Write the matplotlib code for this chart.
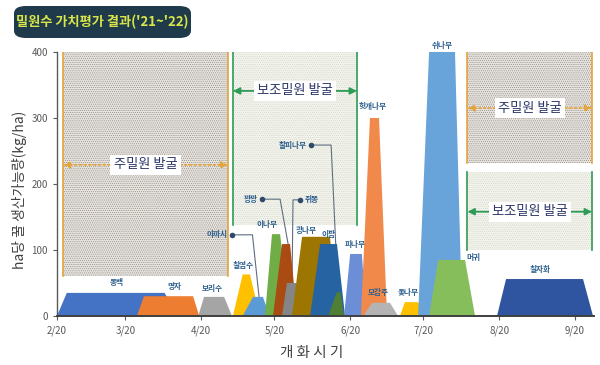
import matplotlib
matplotlib.use("Agg")
import matplotlib.pyplot as plt
from matplotlib.patches import Rectangle, FancyBboxPatch

plt.rcParams['font.family'] = ['Noto Sans CJK KR', 'DejaVu Sans']
plt.rcParams['hatch.linewidth'] = 0.4

# ---- data (x in days since 2/20, y in kg/ha) ----
names = ['동백', '명자', '보리수', '칠엽수', '아까시', '이나무', '꽝꽝', '쥐똥', '광나무',
         '이팝', '찰피나무', '피나무', '헛개나무', '모감주', '옻나무', '쉬나무', '머귀', '칠자화']
base_start = [0, 32.7, 57.8, 72, 76, 85.1, 88.4, 92.1, 96.2, 103.6, 111, 117.5, 124.4, 125.3, 140.4, 147.8, 152.3, 180.1]
top_start = [4, 35.6, 60.2, 76, 80.2, 88, 92.1, 94.1, 100.3, 107.7, 114.5, 120, 128.1, 129, 142.4, 152.3, 156, 183.8]
top_end = [44, 55.7, 68.4, 79, 84.3, 91.3, 95.4, 97.8, 111.7, 114.6, 116, 124.8, 131.8, 136.3, 147.8, 162.9, 167, 215.3]
base_end = [50, 58.2, 71.6, 83, 87, 95.4, 98.2, 100.3, 115, 117.9, 117.5, 126.5, 135.1, 139.6, 150.2, 165.8, 171.1, 219.4]
honey = [35, 30, 29, 63, 29, 124, 109, 50, 120, 109, 36, 94, 300, 20, 21, 400, 85, 56]

tick_days = [0, 28, 59, 89, 120, 150, 181, 212]
tick_labels = ['2/20', '3/20', '4/20', '5/20', '6/20', '7/20', '8/20', '9/20']
y_ticks = [0, 100, 200, 300, 400]

colors = ['#4472C4', '#ED7D31', '#A5A5A5', '#FFC000', '#5B9BD5', '#70AD47', '#A94B12', '#858585',
          '#9C7600', '#2563A3', '#4F7F35', '#6B8ED6', '#F0894A', '#B3B3B3', '#FFC000', '#68A3DA',
          '#86BE5C', '#2F55A0']

# label positions (day, value)
label_pos = {'동백': (24.6, 50), '명자': (47.9, 44), '보리수': (63.4, 41), '칠엽수': (76, 77),
             '이나무': (86, 139), '광나무': (102, 130), '이팝': (111, 123), '피나무': (122, 108),
             '헛개나무': (129.3, 317), '모감주': (131.4, 35), '옻나무': (143.7, 35),
             '쉬나무': (157.6, 410), '머귀': (170.3, 89), '칠자화': (197.7, 70)}

fig = plt.figure(figsize=(6, 3.65), dpi=100)
ax = fig.add_axes([57/600, 1-316/365, (594.5-57)/600, 264/365])
ax.set_xlim(0, 220)
ax.set_ylim(0, 400)

# ---- background regions ----
def region(x0, x1, y0, y1, kind, arrow_y, text):
    if kind == 'main':
        rect = Rectangle((x0, y0), x1-x0, y1-y0, facecolor='#E6E3DF', edgecolor='#8E867D',
                         hatch='........', lw=0, zorder=1)
        lc = '#E3A43C'
        ls = ':'
    else:
        rect = Rectangle((x0, y0), x1-x0, y1-y0, facecolor='#F4F4EE', edgecolor='#CDD1C0',
                         hatch='........', lw=0, zorder=1)
        lc = '#2E9B57'
        ls = '-'
    ax.add_patch(rect)
    ax.plot([x0, x0], [y0, y1], color=lc, lw=1.2, zorder=2)
    ax.plot([x1, x1], [y0, y1], color=lc, lw=1.2, zorder=2)
    ax.annotate('', xy=(x1, arrow_y), xytext=(x0, arrow_y),
                arrowprops=dict(arrowstyle='<|-|>,head_length=0.4,head_width=0.2', color=lc,
                                lw=1.3, ls=ls, shrinkA=0, shrinkB=0), zorder=2)
    ax.text((x0+x1)/2, arrow_y, text, ha='center', va='center', fontsize=9.5, color='#2B3566',
            bbox=dict(boxstyle='square,pad=0.25', fc='white', ec='none'), zorder=3)

region(2.5, 70, 60, 400, 'main', 229, '주밀원 발굴')
region(72, 122.8, 138, 400, 'sub', 341, '보조밀원 발굴')
region(168, 219, 232, 400, 'main', 315, '주밀원 발굴')
region(168, 219, 100, 218, 'sub', 158, '보조밀원 발굴')

# ---- leader lines ----
line_col = '#5E6E80'
leaders = {
    '아까시': ([71.6, 80, 82.7], [123, 123, 29], 70),
    '꽝꽝': ([83.9, 91.3, 94.6], [177, 177, 109], 81.5),
    '쥐똥': ([99.5, 96.6, 96.2], [176, 176, 50], None),
    '찰피나무': ([104, 112.2, 115], [259, 259, 36], 101.8),
}
for nm, (xs, ys, tx) in leaders.items():
    ax.plot(xs, ys, color=line_col, lw=0.8, zorder=4)
    ax.plot(xs[0], ys[0], 'o', ms=3, color='#2E4A6A', zorder=4)
    if tx is None:
        ax.text(xs[0]+1.8, ys[0], nm, ha='left', va='center', fontsize=5.5,
                fontweight='bold', color='#2C5F8E', zorder=20)
    else:
        ax.text(xs[0]-1.6, ys[0], nm, ha='right', va='center', fontsize=5.5,
                fontweight='bold', color='#2C5F8E', zorder=20)

# ---- trapezoids ----
for i, nm in enumerate(names):
    ax.fill([base_start[i], top_start[i], top_end[i], base_end[i]],
            [0, honey[i], honey[i], 0], color=colors[i], lw=0, zorder=5+i)

for nm, (x, y) in label_pos.items():
    ax.text(x, y, nm, ha='center', va='center', fontsize=5.5, fontweight='bold',
            color='#2C5F8E', zorder=30, clip_on=False)

# ---- axes styling ----
for s in ['top', 'right']:
    ax.spines[s].set_visible(False)
ax.spines['left'].set_color('#595959')
ax.spines['left'].set_linewidth(1.0)
ax.spines['bottom'].set_color('#3F3F3F')
ax.spines['bottom'].set_linewidth(1.4)
ax.spines['bottom'].set_zorder(40)
ax.set_xticks(tick_days)
ax.set_xticklabels(tick_labels)
ax.set_yticks(y_ticks)
ax.tick_params(axis='both', labelsize=7, colors='#595959', length=3, width=0.8)
ax.tick_params(axis='x', pad=4)

fig.text(20/600, 1-190/365, 'ha당 꿀 생산가능량(kg/ha)', rotation=90, ha='center', va='center',
         fontsize=10, color='#404040')
fig.text(312/600, 1-353/365, '개 화 시 기', ha='center', va='center', fontsize=10.5, color='#404040')

# ---- title box ----
box = FancyBboxPatch((14/600, 1-38/365), (191-14)/600, (38-6)/365,
                     boxstyle='round,pad=0,rounding_size=0.02', transform=fig.transFigure,
                     fc='#1F3A4B', ec='none')
fig.patches.append(box)
fig.text(102/600, 1-22/365, "밀원수 가치평가 결과('21~'22)", ha='center', va='center',
         fontsize=9.5, fontweight='bold', color='#D8E64A')

fig.savefig('out.png', dpi=100)
